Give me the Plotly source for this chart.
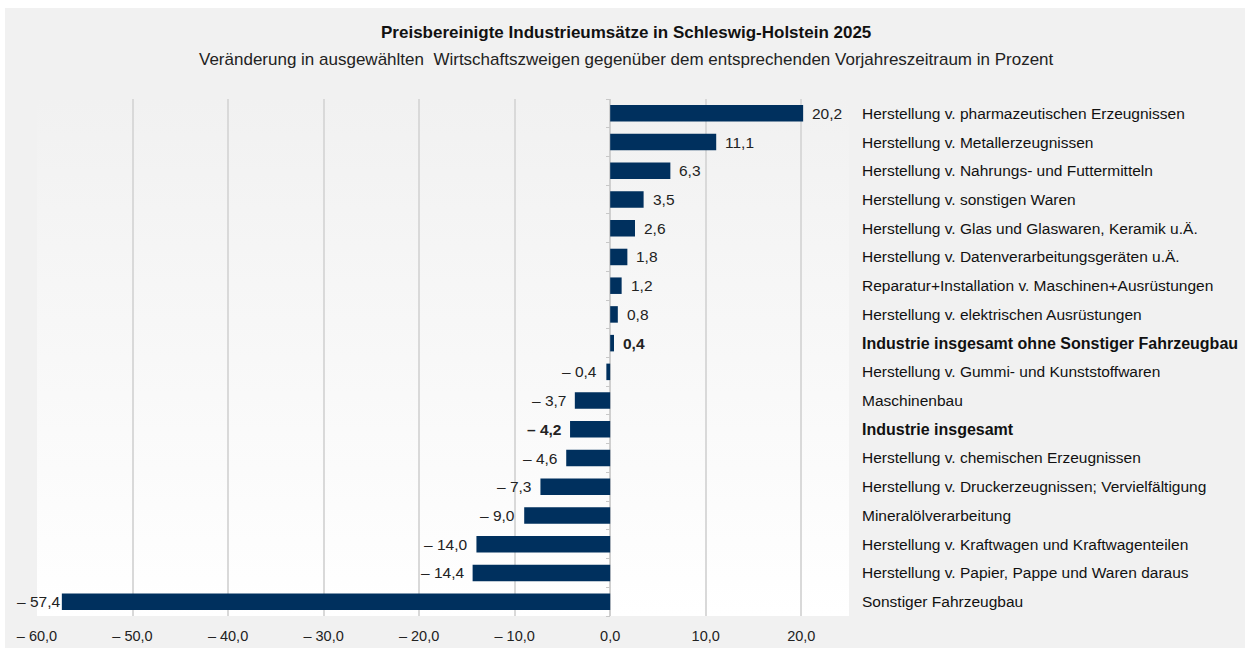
import base64
import plotly.graph_objects as go

categories = [
    "Herstellung v. pharmazeutischen Erzeugnissen",
    "Herstellung v. Metallerzeugnissen",
    "Herstellung v. Nahrungs- und Futtermitteln",
    "Herstellung v. sonstigen Waren",
    "Herstellung v. Glas und Glaswaren, Keramik u.Ä.",
    "Herstellung v. Datenverarbeitungsgeräten u.Ä.",
    "Reparatur+Installation v. Maschinen+Ausrüstungen",
    "Herstellung v. elektrischen Ausrüstungen",
    "Industrie insgesamt ohne Sonstiger Fahrzeugbau",
    "Herstellung v. Gummi- und Kunststoffwaren",
    "Maschinenbau",
    "Industrie insgesamt",
    "Herstellung v. chemischen Erzeugnissen",
    "Herstellung v. Druckerzeugnissen; Vervielfältigung",
    "Mineralölverarbeitung",
    "Herstellung v. Kraftwagen und Kraftwagenteilen",
    "Herstellung v. Papier, Pappe und Waren daraus",
    "Sonstiger Fahrzeugbau",
]
values = [20.2, 11.1, 6.3, 3.5, 2.6, 1.8, 1.2, 0.8, 0.4, -0.4, -3.7, -4.2,
          -4.6, -7.3, -9.0, -14.0, -14.4, -57.4]
bold_categories = ["Industrie insgesamt ohne Sonstiger Fahrzeugbau", "Industrie insgesamt"]
x_tickvals = [-60, -50, -40, -30, -20, -10, 0, 10, 20]
x_range = [-60, 25]

title = "Preisbereinigte Industrieumsätze in Schleswig-Holstein 2025"
subtitle = ("Veränderung in ausgewählten  Wirtschaftszweigen gegenüber dem "
            "entsprechenden Vorjahreszeitraum in Prozent")


def fmt(v, decimals=1):
    s = f"{abs(v):.{decimals}f}".replace(".", ",")
    return ("\u2013 " + s) if v < 0 else s


x_ticktext = [fmt(v) for v in x_tickvals]
y_ticktext = [f"<span style='font-size:16px'><b>{c}</b></span>" if c in bold_categories else c
              for c in categories]

FONT = "Liberation Sans, Arial, sans-serif"
W, H = 1245, 648
L, R, T, B = 37, 396, 99, 32
pw, ph = W - L - R, H - T - B

# vertical gradient for the plot area
svg = """<svg xmlns='http://www.w3.org/2000/svg' width='100' height='100' viewBox='0 0 100 100' preserveAspectRatio='none'>
<defs><linearGradient id='g' x1='0' y1='0' x2='0' y2='1'>
<stop offset='0' stop-color='#f1f1f1'/><stop offset='1' stop-color='#ffffff'/></linearGradient></defs>
<rect x='0' y='0' width='100' height='100' fill='url(#g)'/>
</svg>"""
src = "data:image/svg+xml;base64," + base64.b64encode(svg.encode()).decode()

fig = go.Figure()
fig.add_trace(go.Bar(
    y=categories, x=values, orientation="h",
    marker=dict(color="#00305e", line=dict(width=0)),
    hoverinfo="skip",
))
# carrier for the small category ticks on the zero line
fig.add_trace(go.Scatter(x=[None], y=[None], yaxis="y2", showlegend=False,
                         hoverinfo="skip"))

annotations = []
px_per_unit = pw / (x_range[1] - x_range[0])
for c, v in zip(categories, values):
    t = fmt(v)
    if c in bold_categories:
        t = f"<b>{t}</b>"
    shift = 7
    if v < 0:
        # keep the label inside the chart frame (squeezed next to long bars)
        bar_left_px = (v - x_range[0]) * px_per_unit
        label_w = 8.6 * len(t.replace(" ", "")) + 4
        room = bar_left_px - label_w + L - 20
        shift = max(0, min(7, room))
    annotations.append(dict(
        x=v, y=c, xref="x", yref="y", text=t, showarrow=False,
        xanchor="left" if v >= 0 else "right",
        xshift=shift if v >= 0 else -shift,
        font=dict(family=FONT, size=15.5, color="#222222"),
    ))

cx = (626 - L) / pw
annotations.append(dict(
    x=cx, y=(H - B - 32) / ph, xref="paper", yref="paper",
    text=f"<b>{title}</b>", showarrow=False, xanchor="center", yanchor="middle",
    font=dict(family=FONT, size=17, color="#111111"),
))
annotations.append(dict(
    x=cx, y=(H - B - 59) / ph, xref="paper", yref="paper",
    text=subtitle, showarrow=False, xanchor="center", yanchor="middle",
    font=dict(family=FONT, size=17, color="#222222"),
))

# white strips at the left and top edge (outside the gray frame)
shapes = [
    dict(type="rect", xref="paper", yref="paper", layer="below",
         x0=-L / pw, x1=(5 - L) / pw, y0=-B / ph, y1=1 + T / ph,
         fillcolor="#ffffff", line=dict(width=0)),
    dict(type="rect", xref="paper", yref="paper", layer="below",
         x0=-L / pw, x1=(W - L) / pw, y0=1 + (T - 8) / ph, y1=1 + T / ph,
         fillcolor="#ffffff", line=dict(width=0)),
]

n = len(categories)
fig.update_layout(
    width=W, height=H,
    margin=dict(l=L, r=R, t=T, b=B, pad=0),
    paper_bgcolor="#f1f1f1",
    plot_bgcolor="rgba(0,0,0,0)",
    bargap=0.425,
    showlegend=False,
    font=dict(family=FONT, size=14, color="#222222"),
    annotations=annotations,
    shapes=shapes,
    images=[dict(
        source=src, xref="paper", yref="paper",
        x=0, y=1, sizex=1, sizey=1,
        xanchor="left", yanchor="top", sizing="stretch", layer="below",
    )],
    xaxis=dict(
        range=x_range, tickvals=x_tickvals, ticktext=x_ticktext,
        showgrid=True, gridcolor="#d9d9d9", gridwidth=1.5,
        zeroline=True, zerolinecolor="#cfcfcf", zerolinewidth=1.5,
        showline=False, ticks="", ticklabelstandoff=9,
        tickfont=dict(family=FONT, size=14.5, color="#222222"),
        automargin=False, fixedrange=True,
    ),
    yaxis=dict(
        categoryorder="array", categoryarray=categories,
        tickvals=categories, ticktext=y_ticktext,
        autorange="reversed", side="right",
        showgrid=False, zeroline=False, showline=False, ticks="",
        ticklabelstandoff=12,
        tickfont=dict(family=FONT, size=15.5, color="#111111"),
        automargin=False, fixedrange=True,
    ),
    yaxis2=dict(
        overlaying="y", anchor="free", side="left",
        position=(0 - x_range[0]) / (x_range[1] - x_range[0]),
        range=[n - 0.5, -0.5], tickvals=[i + 0.5 for i in range(-1, n)],
        ticks="outside", ticklen=4, tickwidth=1, tickcolor="#c8c8c8",
        showticklabels=False, showgrid=False, zeroline=False, showline=False,
        automargin=False, fixedrange=True,
    ),
)

fig.write_html(
    "out.html",
    config={"displayModeBar": False},
    post_script="document.body.style.margin='0px';document.body.style.overflow='hidden';",
)
